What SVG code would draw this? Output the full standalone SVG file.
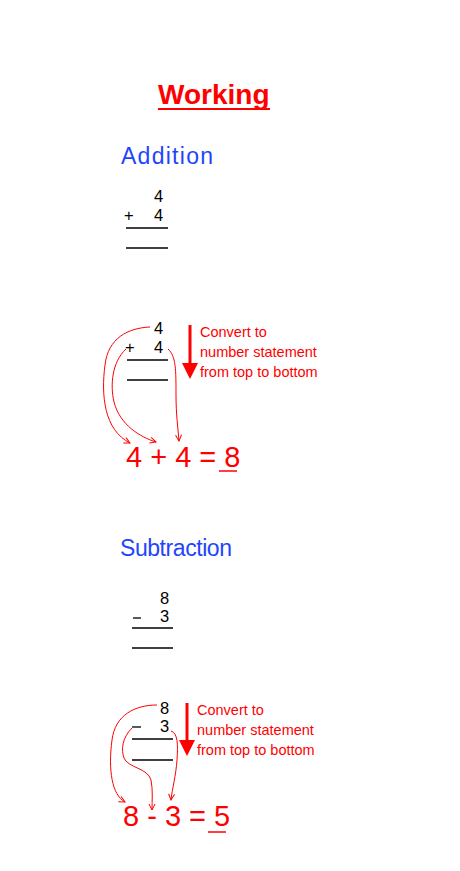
<svg xmlns="http://www.w3.org/2000/svg" width="460" height="871" viewBox="0 0 460 871">
<defs>
<style>
.title{font-family:"Liberation Sans",Arial,sans-serif;font-weight:bold;font-size:28px;fill:#ff0000}
.head{font-family:"Liberation Sans",Arial,sans-serif;font-size:23px;fill:#1f45fc}
.num{font-family:"Liberation Sans",Arial,sans-serif;font-size:16.5px;fill:#000}
.note{font-family:"Liberation Sans",Arial,sans-serif;font-size:14.5px;fill:#ff0000}
.big{font-family:"Liberation Sans",Arial,sans-serif;font-size:29px;fill:#ff0000}
.rule{stroke:#000;stroke-width:1.3}
.ul{stroke:#ff0000;stroke-width:1.5}
.curve{fill:none;stroke:#ff0000;stroke-width:1;marker-end:url(#open)}
.bigarrow{stroke:#ff0000;stroke-width:3}
</style>
<marker id="open" viewBox="0 0 8 8" refX="7" refY="4" markerWidth="8" markerHeight="8" markerUnits="userSpaceOnUse" orient="auto">
<path d="M1,1 L7,4 L1,7" fill="none" stroke="#ff0000" stroke-width="1"/>
</marker>
</defs>
<rect width="460" height="871" fill="#fff"/>

<g id="title">
<text class="title" x="158" y="104">Working</text>
<line class="ul" x1="158" y1="109" x2="270" y2="109" style="stroke-width:2"/>
</g>

<g id="addition-heading"><text class="head" x="121" y="164" textLength="92">Addition</text></g>

<g id="addition-sum">
<text class="num" x="154" y="202">4</text>
<text class="num" x="124" y="221">+</text>
<text class="num" x="154" y="221">4</text>
<line class="rule" x1="126" y1="228" x2="168" y2="228"/>
<line class="rule" x1="126" y1="248" x2="168" y2="248"/>
</g>

<g id="addition-sum-2">
<text class="num" x="154" y="334">4</text>
<text class="num" x="125" y="353">+</text>
<text class="num" x="154" y="353">4</text>
<line class="rule" x1="127" y1="360" x2="168" y2="360"/>
<line class="rule" x1="127" y1="380" x2="168" y2="380"/>
</g>

<g id="addition-note">
<line class="bigarrow" x1="190" y1="325" x2="190" y2="364"/>
<polygon points="182,363 198,363 190,379" fill="#ff0000"/>
<text class="note" x="200" y="337">Convert to</text>
<text class="note" x="200" y="357">number statement</text>
<text class="note" x="200" y="377">from top to bottom</text>
</g>

<g id="addition-statement">
<text class="big" x="126" y="467">4 + 4 = 8</text>
<line class="ul" x1="219" y1="471" x2="237" y2="471"/>
</g>

<g id="connectors">
<path class="curve" d="M150,327 C128,328 108,338 105,365 C101,395 104,430 130,443"/>
<path class="curve" d="M126,349 C112,362 110,385 114,402 C120,425 140,437 156,442"/>
<path class="curve" d="M168,349 C176,356 176,370 176,395 C176,415 178,428 179,441"/>
<path class="curve" d="M157,705 C135,705 115,715 112,740 C108,770 112,795 125,802"/>
<path class="curve" d="M132,728 C122,738 121,750 124,758 C128,768 148,768 151,780 C153,790 152,800 152,810"/>
<path class="curve" d="M171,731 C178,733 178,745 177,760 C176,775 172,790 171,800"/>
</g>

<g id="subtraction-heading"><text class="head" x="120" y="556" textLength="112">Subtraction</text></g>

<g id="subtraction-sum">
<text class="num" x="160" y="604">8</text>
<line class="rule" x1="133" y1="618" x2="141" y2="618"/>
<text class="num" x="160" y="622">3</text>
<line class="rule" x1="132" y1="628" x2="173" y2="628"/>
<line class="rule" x1="132" y1="648" x2="173" y2="648"/>
</g>

<g id="subtraction-sum-2">
<text class="num" x="160" y="714">8</text>
<line class="rule" x1="132" y1="727" x2="141" y2="727"/>
<text class="num" x="160" y="732">3</text>
<line class="rule" x1="132" y1="739" x2="173" y2="739"/>
<line class="rule" x1="132" y1="760" x2="173" y2="760"/>
</g>

<g id="subtraction-note">
<line class="bigarrow" x1="187" y1="703" x2="187" y2="741"/>
<polygon points="179,740 195,740 187,756" fill="#ff0000"/>
<text class="note" x="197" y="715">Convert to</text>
<text class="note" x="197" y="735">number statement</text>
<text class="note" x="197" y="755">from top to bottom</text>
</g>

<g id="subtraction-statement">
<text class="big" x="123" y="826">8 - 3 = 5</text>
<line class="ul" x1="208" y1="832" x2="226" y2="832"/>
</g>
</svg>
